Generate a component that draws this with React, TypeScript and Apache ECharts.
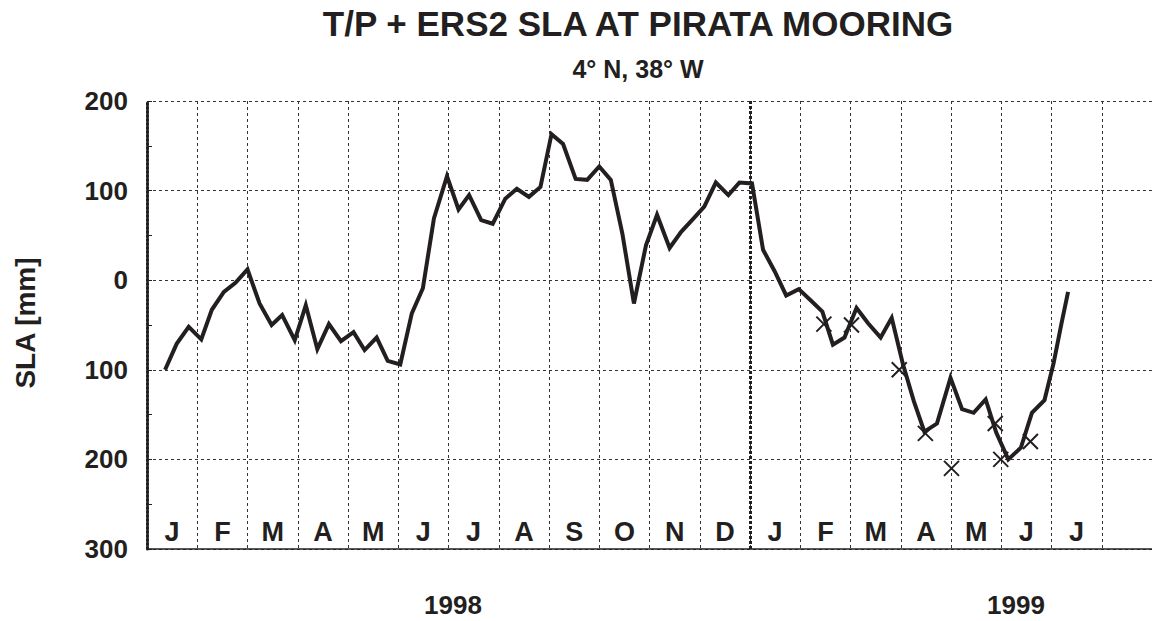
import React, { useEffect, useRef } from "react";
import * as echarts from "echarts";

// Month band letters (Jan 1998 .. Aug 1999)
const monthLetters = ["J", "F", "M", "A", "M", "J", "J", "A", "S", "O", "N", "D", "J", "F", "M", "A", "M", "J", "J", ""];
const yTicks = [-300, -200, -100, 0, 100, 200];
const yearLabels = ["1998", "1999"];

// SLA time series: time in months since 1 Jan 1998, value in mm
const slaMonth = [
  0.36, 0.59, 0.83, 1.08, 1.29, 1.53, 1.76, 2.0, 2.24, 2.48, 2.69, 2.94, 3.16, 3.39, 3.62, 3.86,
  4.11, 4.33, 4.57, 4.79, 5.04, 5.27, 5.49, 5.71, 5.97, 6.2, 6.41, 6.65, 6.88, 7.13, 7.36, 7.6,
  7.83, 8.05, 8.28, 8.53, 8.76, 9.0, 9.23, 9.46, 9.69, 9.93, 10.15, 10.4, 10.63, 10.86, 11.09,
  11.32, 11.57, 11.79, 12.04, 12.26, 12.49, 12.72, 12.97, 13.2, 13.44, 13.65, 13.88, 14.12, 14.35,
  14.6, 14.82, 15.04, 15.26, 15.47, 15.72, 15.99, 16.22, 16.45, 16.69, 16.9, 17.14, 17.39, 17.61,
  17.86, 18.04, 18.2, 18.33,
];
const slaValue = [
  -100, -71, -52, -66, -33, -13, -3, 12, -26, -50, -39, -67, -28, -77, -49, -68,
  -58, -78, -64, -90, -94, -37, -9, 69, 116, 79, 95, 67, 63, 91, 102, 93,
  104, 163, 152, 113, 112, 127, 112, 52, -26, 39, 73, 36, 54, 68, 82,
  109, 95, 109, 108, 34, 10, -17, -10, -22, -35, -72, -64, -31, -48,
  -64, -42, -93, -135, -169, -160, -109, -144, -148, -133, -170, -200, -187, -148,
  -134, -93, -48, -13,
];

// Mooring observations (crosses)
const mooringMonth = [13.47, 14.02, 14.97, 15.49, 16.01, 16.88, 16.99, 17.58];
const mooringValue = [-49, -50, -100, -171, -210, -160, -200, -180];

const INK = "#231f20";
const FONT = "'Liberation Sans', Arial, Helvetica, sans-serif";

export default function App() {
  const ref = useRef<HTMLDivElement>(null);

  useEffect(() => {
    if (!ref.current) return;
    const chart = echarts.init(ref.current, undefined, { renderer: "svg" });
    const lineData = slaMonth.map((m, i) => [m, slaValue[i]]);
    const crossData = mooringMonth.map((m, i) => [m, mooringValue[i]]);

    const txt = (text: string, x: number, y: number, size: number, rotation = 0) => ({
      type: "text",
      x,
      y,
      rotation,
      style: {
        text,
        font: `bold ${size}px ${FONT}`,
        fill: INK,
        textAlign: "center",
        textVerticalAlign: "middle",
      },
    });

    chart.setOption({
      animation: false,
      backgroundColor: "#ffffff",
      textStyle: { fontFamily: FONT },
      grid: { left: 147, top: 101, width: 1022, height: 448, containLabel: false },
      graphic: [
        txt("T/P + ERS2 SLA AT PIRATA MOORING", 638, 23, 35),
        txt("4° N, 38° W", 638, 69, 25),
        txt("SLA [mm]", 25, 323, 28, Math.PI / 2),
        txt(yearLabels[0], 453, 605, 26),
        txt(yearLabels[1], 1016, 605, 26),
      ],
      xAxis: [
        { type: "value", min: 0, max: 20, show: false },
        {
          type: "category",
          data: monthLetters,
          boundaryGap: true,
          position: "bottom",
          axisLine: { show: true, lineStyle: { color: INK, width: 1.5 } },
          axisTick: { show: false },
          axisLabel: {
            inside: true,
            interval: 0,
            margin: 4,
            fontSize: 27,
            fontWeight: "bold",
            fontFamily: FONT,
            color: INK,
          },
          splitLine: { show: true, interval: 0, lineStyle: { type: [3, 3], color: "#333", width: 1 } },
        },
      ],
      yAxis: {
        type: "value",
        min: yTicks[0],
        max: yTicks[yTicks.length - 1],
        interval: 100,
        axisLine: { show: true, lineStyle: { type: [2, 2], width: 3, color: INK } },
        axisTick: { show: true, inside: true, length: 5, lineStyle: { color: INK } },
        minorTick: { show: true, splitNumber: 2, length: 5, lineStyle: { color: INK } },
        axisLabel: {
          formatter: (v: number) => String(Math.abs(v)),
          fontSize: 26,
          fontWeight: "bold",
          fontFamily: FONT,
          color: INK,
          margin: 19,
        },
        splitLine: { show: true, lineStyle: { type: [3, 3], color: "#333", width: 1 } },
      },
      series: [
        {
          type: "line",
          xAxisIndex: 0,
          data: lineData,
          symbol: "none",
          lineStyle: { color: INK, width: 4, join: "miter" },
          markLine: {
            silent: true,
            symbol: "none",
            label: { show: false },
            lineStyle: { type: [3, 2], width: 3, color: INK },
            data: [{ xAxis: 12 }],
          },
          z: 3,
        },
        {
          type: "scatter",
          xAxisIndex: 0,
          data: crossData,
          symbol: "path://M0,0L10,10M10,0L0,10",
          symbolSize: 15,
          itemStyle: { color: "none", borderColor: INK, borderWidth: 2, opacity: 1 },
          z: 4,
        },
      ],
    });

    return () => chart.dispose();
  }, []);

  return (
    <div
      ref={ref}
      style={{ position: "fixed", left: 0, top: 0, width: 1152, height: 621, background: "#fff" }}
    />
  );
}
